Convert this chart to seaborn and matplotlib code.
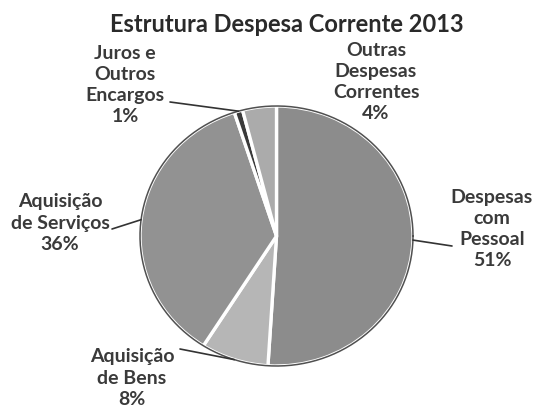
import numpy as np
import matplotlib
matplotlib.use("Agg")
import matplotlib.pyplot as plt
import seaborn as sns

categories = ["Despesas\ncom\nPessoal", "Aquisição\nde Bens", "Aquisição\nde Serviços",
              "Juros e\nOutros\nEncargos", "Outras\nDespesas\nCorrentes"]
shares = [51, 8, 36, 1, 4]
colors = ["#8c8c8c", "#b6b6b6", "#929292", "#3a3a3a", "#ababab"]

sns.set_theme(style="white")
plt.rcParams["font.family"] = ["Lato", "DejaVu Sans"]

W, H = 536, 410
fig = plt.figure(figsize=(W / 100, H / 100), dpi=100)
fig.patch.set_facecolor("white")

# pie box in pixels
left, right, top, bottom = 140, 413, 107, 367
ax = fig.add_axes([left / W, 1 - bottom / H, (right - left) / W, (bottom - top) / H])

wedges, _ = ax.pie(shares, colors=colors, startangle=90, counterclock=False,
                   radius=1.0, frame=True,
                   wedgeprops=dict(edgecolor="white", linewidth=2.4))
ax.set_xlim(-1.0, 1.0)
ax.set_ylim(-1.0, 1.0)
ax.set_aspect("auto")
ax.axis("off")

# dark outline round the pie
theta = np.linspace(0, 2 * np.pi, 400)
ax.plot(np.cos(theta), np.sin(theta), color="#505050", lw=1.1, clip_on=False)

def px2data(px, py):
    cx, cy = (left + right) / 2, (top + bottom) / 2
    return (px - cx) / ((right - left) / 2), (cy - py) / ((bottom - top) / 2)

# label text centres (pixels) and leader-line end points (pixels)
label_pos = [(492, 229), (132, 378), (60, 223), (125, 85), (376, 82)]
leader_end = [(452, 247), (180, 350), (112, 230), (170, 103), None]
text_color = "#3a3a3a"

for w, cat, val, lp, le in zip(wedges, categories, shares, label_pos, leader_end):
    w.set_clip_on(False)
    tx, ty = px2data(*lp)
    ax.text(tx, ty, f"{cat}\n{val}%", ha="center", va="center", fontsize=14,
            fontweight="bold", color=text_color, linespacing=1.3, clip_on=False)
    if le is not None:
        mid = np.deg2rad((w.theta1 + w.theta2) / 2)
        x0, y0 = np.cos(mid), np.sin(mid)
        x1, y1 = px2data(*le)
        ax.plot([x0, x1], [y0, y1], color="#333333", lw=1.2, clip_on=False)

fig.text(287 / W, 1 - 25 / H, "Estrutura Despesa Corrente 2013", ha="center", va="center",
         fontsize=17, fontweight="bold", color="#2a2a2a")

fig.savefig("out.png", dpi=100, facecolor="white")
